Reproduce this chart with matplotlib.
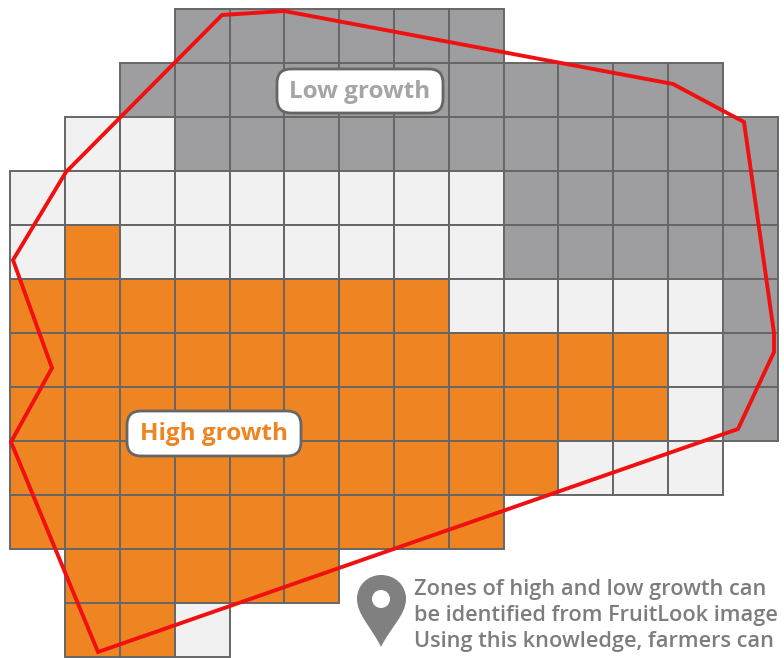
import numpy as np
import matplotlib.pyplot as plt
from matplotlib.patches import FancyBboxPatch, PathPatch, Circle, Rectangle
from matplotlib.path import Path

# 0 = low growth, 1 = middle, 2 = high growth, -1 = outside the block
zones = [
    [-1, -1, -1, 0, 0, 0, 0, 0, 0, -1, -1, -1, -1, -1],
    [-1, -1, 0, 0, 0, 0, 0, 0, 0, 0, 0, 0, 0, -1],
    [-1, 1, 1, 0, 0, 0, 0, 0, 0, 0, 0, 0, 0, 0],
    [1, 1, 1, 1, 1, 1, 1, 1, 1, 0, 0, 0, 0, 0],
    [1, 2, 1, 1, 1, 1, 1, 1, 1, 0, 0, 0, 0, 0],
    [2, 2, 2, 2, 2, 2, 2, 2, 1, 1, 1, 1, 1, 0],
    [2, 2, 2, 2, 2, 2, 2, 2, 2, 2, 2, 2, 1, 0],
    [2, 2, 2, 2, 2, 2, 2, 2, 2, 2, 2, 2, 1, 0],
    [2, 2, 2, 2, 2, 2, 2, 2, 2, 2, 1, 1, 1, -1],
    [2, 2, 2, 2, 2, 2, 2, 2, 2, -1, -1, -1, -1, -1],
    [-1, 2, 2, 2, 2, 2, -1, -1, -1, -1, -1, -1, -1, -1],
    [-1, 2, 2, 1, -1, -1, -1, -1, -1, -1, -1, -1, -1, -1],
]
zone_colors = ['#9e9d9f', '#f1f1f2', '#ee8522']

# orchard boundary in pixels
boundary_x = [222, 284, 673, 744, 774, 774, 738, 98, 11, 52, 13, 66]
boundary_y = [15, 11, 84, 122, 333, 352, 429, 652, 442, 368, 260, 172]

caption = ['Zones of high and low growth can',
           'be identified from FruitLook image',
           'Using this knowledge, farmers can']
caption_y = [590, 616, 642]

plt.rcParams['font.family'] = ['Open Sans', 'DejaVu Sans']

fig = plt.figure(figsize=(7.84, 6.58), dpi=100)
ax = fig.add_axes([0, 0, 1, 1])
ax.set_xlim(0, 784)
ax.set_ylim(658, 0)
ax.axis('off')

cell_w = 54.8
cell_h = 54
for r, row in enumerate(zones):
    for c, zone in enumerate(row):
        if zone < 0:
            continue
        ax.add_patch(Rectangle((10.5 + c * cell_w, 9 + r * cell_h), cell_w, cell_h,
                               facecolor=zone_colors[zone], edgecolor='#666666',
                               linewidth=1.4))

ax.fill(boundary_x, boundary_y, fill=False, edgecolor='#f01010',
        linewidth=2.8, joinstyle='miter', zorder=3)


def label(x0, y0, x1, y1, text, color):
    box = FancyBboxPatch((x0 + 14, y0 + 14), x1 - x0 - 28, y1 - y0 - 28,
                         boxstyle='round,pad=14,rounding_size=14',
                         facecolor='white', edgecolor='#666666',
                         linewidth=2, zorder=4)
    ax.add_patch(box)
    ax.text((x0 + x1) / 2, (y0 + y1) / 2 + 1, text, color=color, fontsize=17.5,
            fontweight='bold', ha='center', va='center', zorder=5)


label(277, 69, 443, 113, 'Low growth', '#a5a4a6')
label(127, 411, 301, 456, 'High growth', '#ee8522')

pin = Path([(381, 647), (372, 628), (357, 615), (357, 599),
            (357, 585), (368, 575), (381, 575),
            (395, 575), (406, 585), (406, 599),
            (406, 615), (390, 628), (381, 647)],
           [Path.MOVETO, Path.CURVE4, Path.CURVE4, Path.CURVE4,
            Path.CURVE4, Path.CURVE4, Path.CURVE4,
            Path.CURVE4, Path.CURVE4, Path.CURVE4,
            Path.CURVE4, Path.CURVE4, Path.CURVE4])
ax.add_patch(PathPatch(pin, facecolor='#808080', edgecolor='none'))
ax.add_patch(Circle((381, 599), 9, facecolor='white', edgecolor='none'))

for line, y in zip(caption, caption_y):
    ax.text(414, y, line, color='#7d7d7d', fontsize=15.7, fontweight='semibold',
            ha='left', va='center', clip_on=True)

fig.savefig('out.png', dpi=100)
